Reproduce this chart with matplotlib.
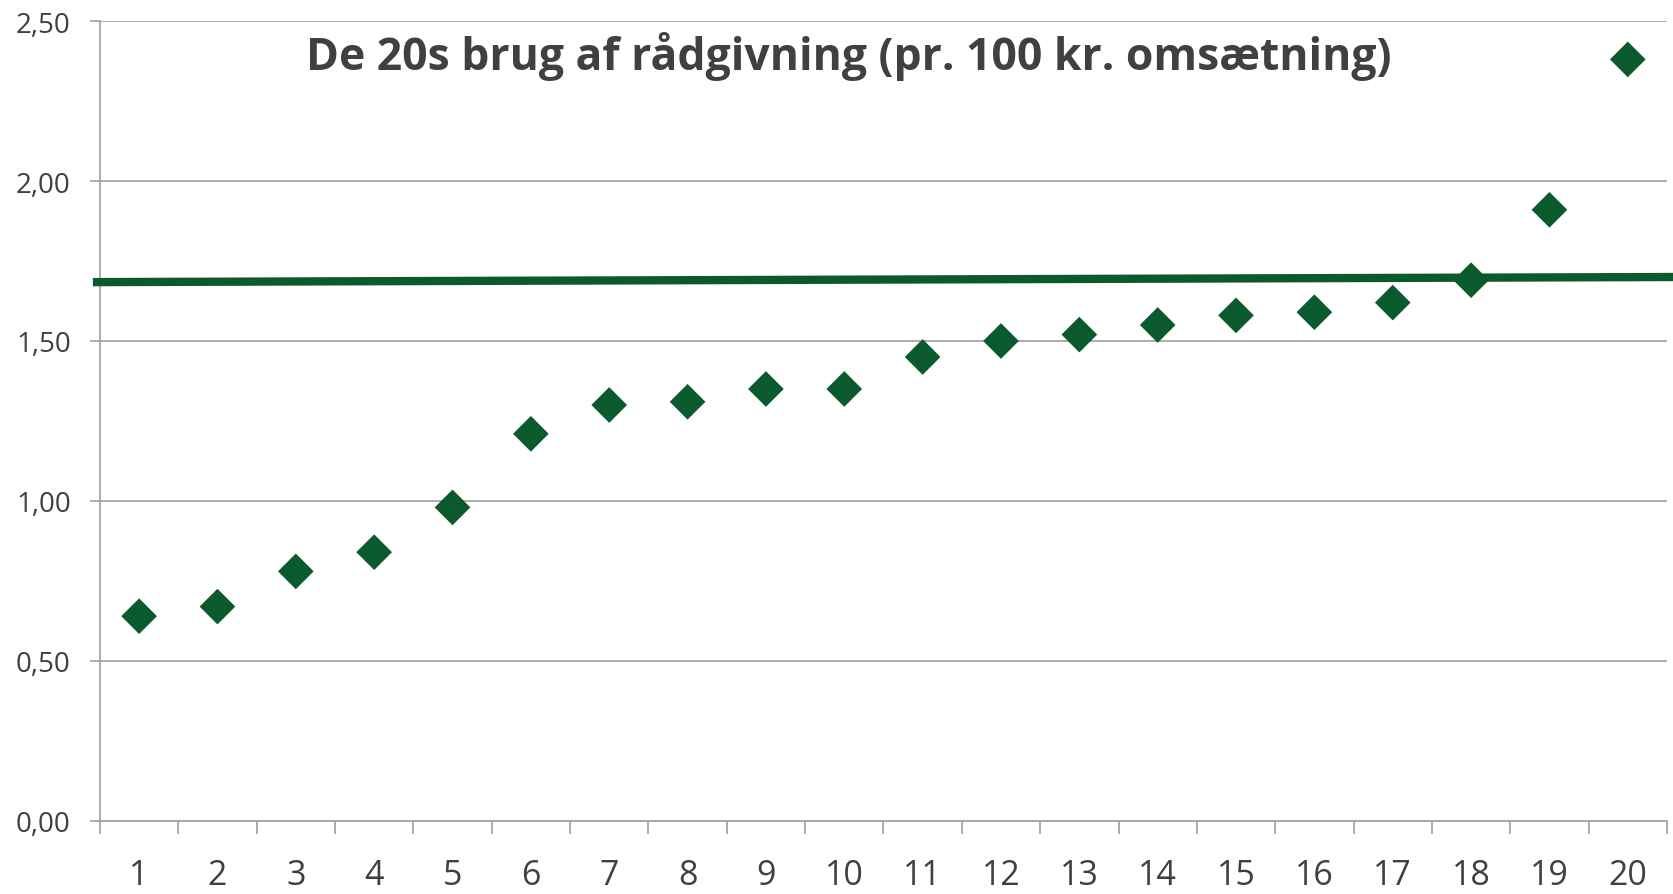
import numpy as np
import matplotlib.pyplot as plt
from matplotlib.ticker import FixedLocator, FuncFormatter

# data
categories = list(range(1, 21))
values = [0.64, 0.67, 0.78, 0.84, 0.98, 1.21, 1.30, 1.31, 1.35, 1.35,
          1.45, 1.50, 1.52, 1.55, 1.58, 1.59, 1.62, 1.69, 1.91, 2.38]
# reference line (runs a bit past both ends of the axis)
ref_x = [0.41, 20.59]
ref_y = [1.684, 1.700]
y_ticks = [0.0, 0.5, 1.0, 1.5, 2.0, 2.5]
title = "De 20s brug af rådgivning (pr. 100 kr. omsætning)"

green = "#0b5a2e"
grid_col = "#a6a6a6"
text_col = "#404040"
plt.rcParams['font.family'] = ['Open Sans', 'DejaVu Sans']

fig = plt.figure(figsize=(16.74, 8.95), dpi=100)
ax = fig.add_axes([0.0597, 0.0816, 0.9361, 0.8938])

ax.plot(ref_x, ref_y, color=green, lw=6, solid_capstyle='butt', clip_on=False, zorder=3)
ax.scatter(categories, values, marker='D', s=330, color=green, edgecolors='none', zorder=4)

ax.set_xlim(0.5, 20.5)
ax.set_ylim(0, 2.5)

# gridlines + axes
ax.set_yticks(y_ticks)
ax.yaxis.set_major_formatter(FuncFormatter(lambda v, p: f"{v:.2f}".replace('.', ',')))
ax.grid(axis='y', color=grid_col, lw=1.3, zorder=0)
for s in ['top', 'right']:
    ax.spines[s].set_visible(False)
for s in ['left', 'bottom']:
    ax.spines[s].set_color(grid_col)
    ax.spines[s].set_linewidth(1.3)

# tick marks between categories, labels under category centres
ax.xaxis.set_major_locator(FixedLocator(np.arange(0.5, 21, 1)))
ax.xaxis.set_minor_locator(FixedLocator(categories))
ax.xaxis.set_major_formatter(FuncFormatter(lambda v, p: ""))
ax.xaxis.set_minor_formatter(FuncFormatter(lambda v, p: f"{int(round(v))}"))
ax.tick_params(axis='x', which='major', length=9.5, width=1.3, color=grid_col, direction='out')
ax.tick_params(axis='x', which='minor', length=0, pad=27, labelsize=24.5, labelcolor=text_col)
ax.tick_params(axis='y', which='major', length=7, width=1.3, color=grid_col,
               pad=14, labelsize=20, labelcolor=text_col)

ax.text(0.478, 0.9575, title, transform=ax.transAxes, ha='center', va='center',
        fontsize=32, fontweight='bold', color=text_col)

fig.savefig("out.png", dpi=100)
